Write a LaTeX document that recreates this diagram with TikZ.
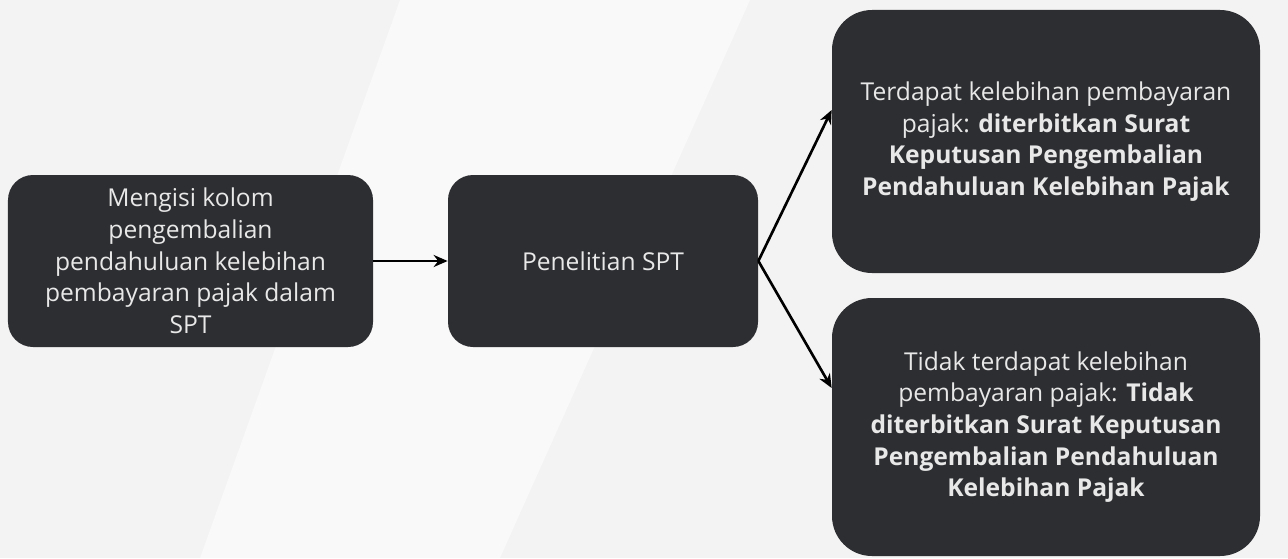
\documentclass[tikz,border=0pt]{standalone}
\usepackage{fontspec}
\setmainfont{Open Sans}
\usetikzlibrary{arrows.meta, positioning, calc}

\definecolor{boxdark}{HTML}{2D2E32}
\definecolor{boxtext}{HTML}{E8E8E8}
\definecolor{pagebg}{HTML}{F3F3F3}

\begin{document}
\begin{tikzpicture}[
    stepbox/.style={fill=boxdark, text=boxtext, rounded corners=0.5cm, align=center, minimum height=3.44cm, inner sep=2pt, font=\fontsize{14}{18}\selectfont},
    resultbox/.style={stepbox, rounded corners=0.8cm, minimum width=8.56cm},
    flow/.style={->, line width=1.5pt, black},
    >={Stealth[length=2.8mm, width=2.4mm]}
]

% Background
\useasboundingbox (0,0) rectangle (25.76,11.16);
\fill[pagebg] (0,0) rectangle (25.76,11.16);
\fill[white, opacity=0.5] (8,11.16) -- (15,11.16) -- (10,0) -- (4,0) -- cycle;

% Steps
\node[stepbox, minimum width=7.3cm] (fill) at (3.81, 5.94) {Mengisi kolom\\pengembalian\\pendahuluan kelebihan\\pembayaran pajak dalam\\SPT};
\node[stepbox, minimum width=6.2cm] (check) at (12.06, 5.94) {Penelitian SPT};

% Results
\node[resultbox, minimum height=5.26cm] (yes) at (20.92, 8.33) {Terdapat kelebihan pembayaran\\pajak: \textbf{diterbitkan Surat}\\\textbf{Keputusan Pengembalian}\\\textbf{Pendahuluan Kelebihan Pajak}};
\node[resultbox, minimum height=5.16cm] (no) at (20.92, 2.62) {Tidak terdapat kelebihan\\pembayaran pajak: \textbf{Tidak}\\\textbf{diterbitkan Surat Keputusan}\\\textbf{Pengembalian Pendahuluan}\\\textbf{Kelebihan Pajak}};

% Connections
\draw[flow] (fill.east) -- (check.west);
\draw[flow] (check.east) -- ([yshift=0.63cm]yes.west);
\draw[flow] (check.east) -- ([yshift=0.78cm]no.west);

\end{tikzpicture}
\end{document}
